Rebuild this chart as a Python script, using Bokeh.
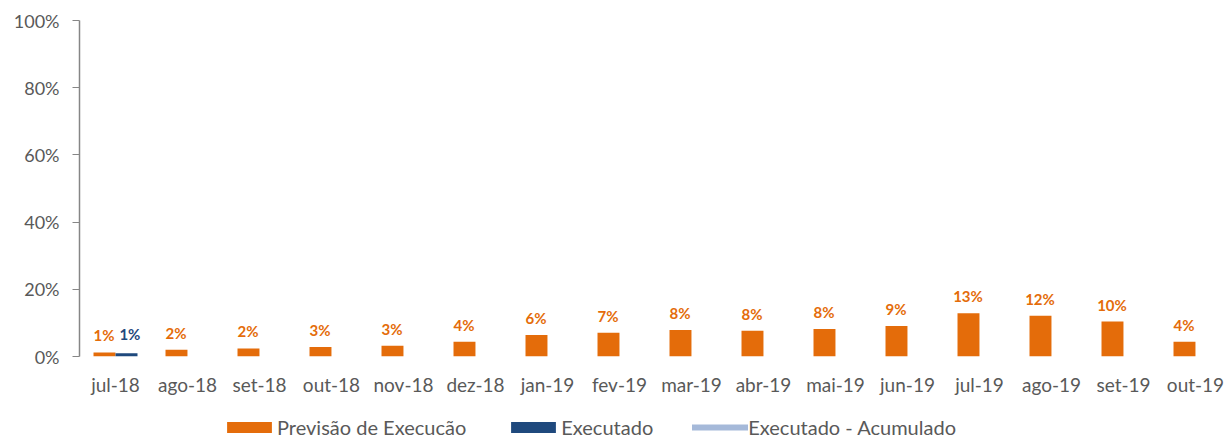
from bokeh.plotting import figure
from bokeh.layouts import column
from bokeh.models import ColumnDataSource, FactorRange, Range1d, Legend, LegendItem, PrintfTickFormatter, FixedTicker
from bokeh.transform import dodge
from bokeh.core.properties import value
from bokeh.embed import file_html
from bokeh.resources import INLINE

NAN = float("nan")
months = ["jul-18", "ago-18", "set-18", "out-18", "nov-18", "dez-18", "jan-19", "fev-19",
          "mar-19", "abr-19", "mai-19", "jun-19", "jul-19", "ago-19", "set-19", "out-19"]
previsao = [1.2, 2.0, 2.4, 2.8, 3.2, 4.4, 6.4, 7.1, 7.9, 7.7, 8.2, 9.1, 12.9, 12.1, 10.4, 4.4]
executado = [1.0] + [NAN] * 15
executado_acumulado = [NAN] * 16   # series in the legend, no visible points in the reference
series_names = ["Previsão de Execucão", "Executado", "Executado - Acumulado"]

ORANGE = "#E46C0A"
BLUE = "#1F497D"
LIGHT = "#A5B9D9"
GRAY = "#595959"
FONT = "Lato"

prev_labels = ["%d%%" % round(v) for v in previsao]
exec_labels = ["" if v != v else "%d%%" % round(v) for v in executado]

src = ColumnDataSource(dict(m=months, prev=previsao, exe=executado, acc=executado_acumulado,
                            prev_lbl=prev_labels, exe_lbl=exec_labels))

W = 1231
H_MAIN = 412
H_LEG = 27

p = figure(width=W, height=H_MAIN, x_range=FactorRange(*months, range_padding=0),
           y_range=Range1d(0, 100), output_backend="svg", toolbar_location=None,
           min_border_left=79, min_border_right=0, min_border_top=20, min_border_bottom=H_MAIN - 356)
p.outline_line_color = None
p.xgrid.grid_line_color = None
p.ygrid.grid_line_color = None
p.background_fill_color = None
p.border_fill_color = None

p.vbar(x=dodge("m", -0.153, range=p.x_range), top="prev", width=0.305, source=src,
       fill_color=ORANGE, line_color=None)
p.vbar(x=dodge("m", 0.153, range=p.x_range), top="exe", width=0.305, source=src,
       fill_color=BLUE, line_color=None)
p.line(x="m", y="acc", source=src, line_color=LIGHT, line_width=6, line_cap="round")

p.text(x=dodge("m", -0.16, range=p.x_range), y="prev", text="prev_lbl", source=src,
       text_color=ORANGE, text_font=value(FONT), text_font_style="bold",
       text_font_size="15px", text_align="center", text_baseline="middle", y_offset=-17)
p.text(x=dodge("m", 0.2, range=p.x_range), y="exe", text="exe_lbl", source=src,
       text_color=BLUE, text_font=value(FONT), text_font_style="bold",
       text_font_size="15px", text_align="center", text_baseline="middle", y_offset=-19)

ya = p.yaxis[0]
ya.ticker = FixedTicker(ticks=[0, 20, 40, 60, 80, 100])
ya.formatter = PrintfTickFormatter(format="%d%%")
ya.axis_line_color = "#868686"
ya.axis_line_width = 1.5
ya.major_tick_line_color = "#868686"
ya.major_tick_out = 7
ya.major_tick_in = 0
ya.minor_tick_line_color = None
ya.major_label_standoff = 13
ya.major_label_text_font = FONT
ya.major_label_text_font_size = "18px"
ya.major_label_text_color = GRAY

xa = p.xaxis[0]
xa.axis_line_color = None
xa.major_tick_line_color = None
xa.minor_tick_line_color = None
xa.major_label_standoff = 10
xa.major_label_text_font = FONT
xa.major_label_text_font_size = "19px"
xa.major_label_text_color = GRAY

# legend strip below the chart
lf = figure(width=W, height=H_LEG, output_backend="svg", toolbar_location=None,
            x_axis_type=None, y_axis_type=None, x_range=Range1d(0, 1), y_range=Range1d(0, 1),
            min_border_left=0, min_border_right=0, min_border_top=0, min_border_bottom=0)
lf.outline_line_color = None
lf.xgrid.grid_line_color = None
lf.ygrid.grid_line_color = None
lf.background_fill_color = None
lf.border_fill_color = None
leg_src = ColumnDataSource(dict(x=[0.5], y=[NAN]))
g1 = lf.vbar(x="x", top="y", width=0.1, source=leg_src, fill_color=ORANGE, line_color=None)
g2 = lf.vbar(x="x", top="y", width=0.1, source=leg_src, fill_color=BLUE, line_color=None)
g3 = lf.line(x="x", y="y", source=leg_src, line_color=LIGHT, line_width=6, line_cap="round")

legend = Legend(items=[LegendItem(label=series_names[0], renderers=[g1]),
                       LegendItem(label=series_names[1], renderers=[g2]),
                       LegendItem(label=series_names[2], renderers=[g3])],
                orientation="horizontal", location=(142, 0),
                glyph_width=56, glyph_height=14, label_standoff=0, spacing=39,
                label_text_font=FONT, label_text_font_size="20px", label_text_color=GRAY,
                border_line_color=None, background_fill_alpha=0, padding=0, margin=0)
lf.add_layout(legend)

layout = column(p, lf, spacing=0)
open("out.html", "w").write(file_html(layout, INLINE))
